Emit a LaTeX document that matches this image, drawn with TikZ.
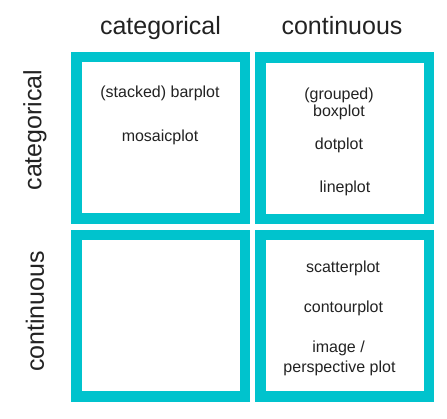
\documentclass[tikz,border=0pt]{standalone}
\usepackage{fontspec}
\setmainfont{Liberation Sans}
\definecolor{frame}{RGB}{0,195,205}
\definecolor{ink}{RGB}{34,34,34}
\begin{document}
\begin{tikzpicture}[x=1pt,y=-1pt,
  cell/.style={draw=frame,line width=10.5pt,minimum width=168.5pt,minimum height=161.5pt,inner sep=0pt,anchor=center},
  head/.style={font=\fontsize{25}{30}\selectfont,text=ink,inner sep=0pt},
  item/.style={font=\fontsize{16}{18}\selectfont,text=ink,inner sep=0pt,anchor=base}]
\useasboundingbox (0,0) rectangle (447,418);
% cells
\node[cell] (tl) at (160.5,137.5) {};
\node[cell] (tr) at (344.5,138) {};
\node[cell] (bl) at (160.5,315.5) {};
\node[cell] (br) at (344.5,315.5) {};
% headers
\node[head,anchor=base] (hcat) at (160.5,34) {categorical};
\node[head,anchor=base] (hcon) at (342,34) {continuous};
\node[head,rotate=90] (vcat) at (35,130) {categorical};
\node[head,rotate=90] (vcon) at (35,311.5) {continuous};
% items
\node[item] (stacked) at (160,97) {(stacked) barplot};
\node[item] (mosaic) at (160,141) {mosaicplot};
\node[item] (grouped) at (339,99.5) {(grouped)};
\node[item] (box) at (339,116.5) {boxplot};
\node[item] (dot) at (339,149.5) {dotplot};
\node[item] (line) at (345,192) {lineplot};
\node[item] (scatter) at (343,272) {scatterplot};
\node[item] (contour) at (343.5,312) {contourplot};
\node[item] (image) at (338.5,352) {image /};
\node[item] (persp) at (339.5,372) {perspective plot};
\end{tikzpicture}
\end{document}
